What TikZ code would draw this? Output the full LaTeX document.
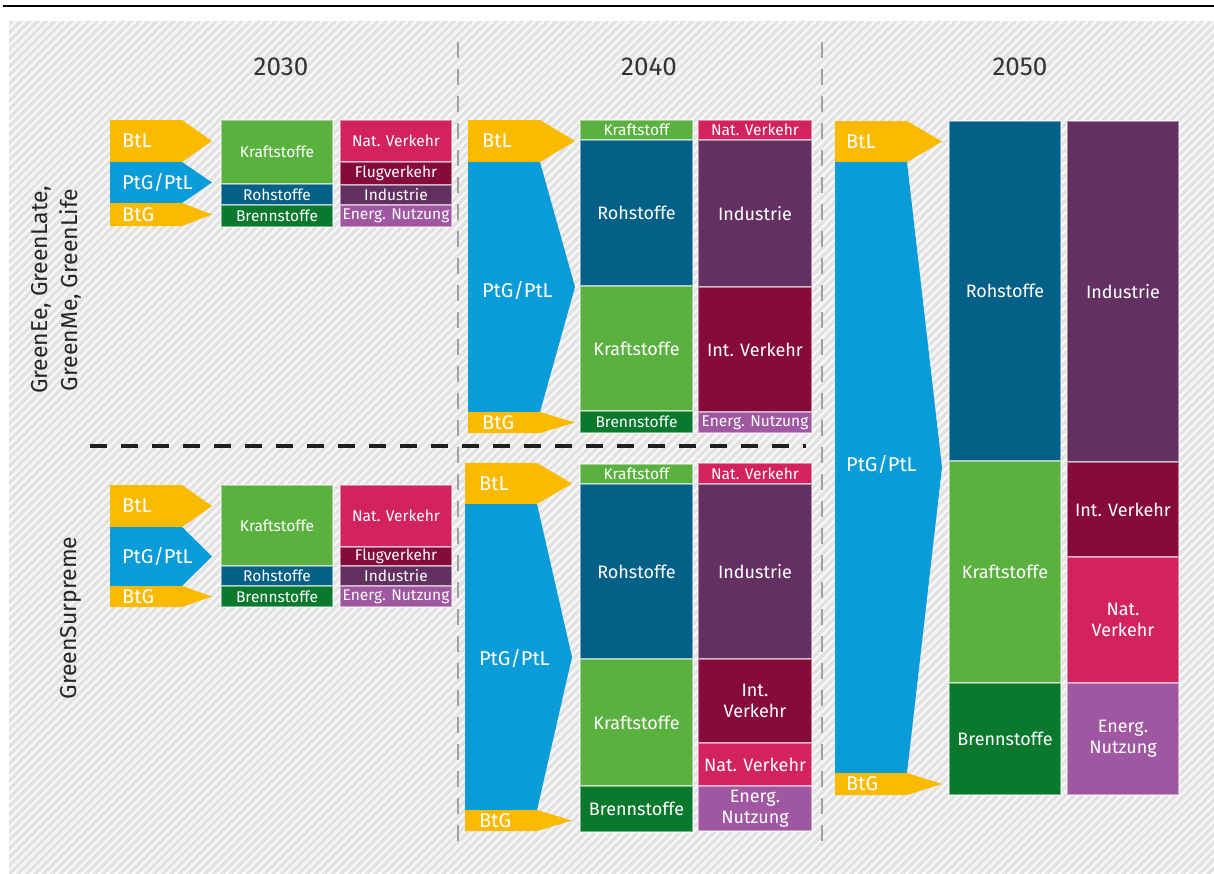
\documentclass[tikz,border=0pt]{standalone}
\usepackage{fontspec}
\setmainfont{Fira Sans}
\definecolor{egyellow}{RGB}{250,186,0}
\definecolor{egblue}{RGB}{9,156,216}
\definecolor{egkraft}{RGB}{90,177,63}
\definecolor{egroh}{RGB}{4,96,134}
\definecolor{egbrenn}{RGB}{11,121,45}
\definecolor{egnat}{RGB}{210,34,96}
\definecolor{egint}{RGB}{132,11,58}
\definecolor{egind}{RGB}{98,48,97}
\definecolor{egenerg}{RGB}{158,87,160}
\definecolor{eghatchA}{RGB}{248,248,248}
\definecolor{eghatchB}{RGB}{226,226,226}
% chevron: x0, corner x, tip x, top y, bottom y, colour
\newcommand{\fuelarrow}[6]{%
  \fill[#6] (#1,#4) -- (#2,#4) -- (#3,{(#4+#5)/2}) -- (#2,#5) -- (#1,#5) -- cycle;}

\begin{document}
\begin{tikzpicture}[
  x=1pt, y=-1pt,
  seg/.style={draw=white, draw opacity=0.45, line width=1.2pt, inner sep=0pt, outer sep=0pt,
              text=white, align=center, minimum width=112},
  segS/.style={seg, font=\fontsize{15.5}{17}\selectfont},
  segL/.style={seg, font=\fontsize{18}{21}\selectfont},
  fuellbl/.style={anchor=west, text=white, inner sep=0pt, font=\fontsize{20}{22}\selectfont},
  yearlbl/.style={text=black!80, font=\fontsize{26}{28}\selectfont},
  scenlbl/.style={text=black!85, rotate=90, align=center, font=\fontsize{23}{30}\selectfont},
  sepline/.style={draw=black!37, line width=2.5pt, dash pattern=on 16pt off 11pt},
  rowline/.style={draw=black!88, line width=3.2pt, dash pattern=on 17pt off 14pt},
]
  \useasboundingbox (0,0) rectangle (1214,873);

  % Top rule and hatched background
  \draw[line width=2.6pt] (3,6) -- (1214,6);
  \begin{scope}
    \clip (9,21) rectangle (1214,873);
    \fill[eghatchA] (9,21) rectangle (1214,873);
    \foreach \i in {0,...,245}
      \draw[eghatchB, line width=3.4pt] ({\i*8.5-850},875) -- ++(860,-860);
  \end{scope}

  % Separators
  \draw[sepline] (458,42) -- (458,852);
  \draw[sepline] (822,42) -- (822,852);
  \draw[rowline] (90,446) -- (806,446);

  % Years and scenarios
  \node[yearlbl] (y2030) at (281,67) {2030};
  \node[yearlbl] (y2040) at (649,67) {2040};
  \node[yearlbl] (y2050) at (1020,67) {2050};
  \node[scenlbl] (scenA) at (56,290) {GreenEe, GreenLate,\\GreenMe, GreenLife};
  \node[scenlbl] (scenB) at (71,618) {GreenSurpreme};

  % Upper row: 2030
  \fuelarrow{110}{182}{212}{120}{162}{egyellow}
  \fuelarrow{110}{182}{212}{162}{203}{egblue}
  \fuelarrow{110}{182}{212}{203}{226}{egyellow}
  \node[fuellbl] (aBtL) at (122,141) {BtL};
  \node[fuellbl] (aPtX) at (122,182.5) {PtG/PtL};
  \node[fuellbl] (aBtG) at (122,214.5) {BtG};

  \node[segS,fill=egkraft,minimum height=64] (aKraft) at (277,152) {Kraftstoffe};
  \node[segS,fill=egroh,minimum height=21] (aRoh) at (277,194.5) {Rohstoffe};
  \node[segS,fill=egbrenn,minimum height=22] (aBrenn) at (277,216) {Brennstoffe};

  \node[segS,fill=egnat,minimum height=42] (aNat) at (396,141) {Nat. Verkehr};
  \node[segS,fill=egint,minimum height=23] (aFlug) at (396,173.5) {Flugverkehr};
  \node[segS,fill=egind,minimum height=20] (aInd) at (396,195) {Industrie};
  \node[segS,fill=egenerg,minimum height=22] (aEnerg) at (396,216) {Energ. Nutzung};

  % Upper row: 2040
  \fuelarrow{468}{540}{575}{120}{162}{egyellow}
  \fuelarrow{468}{540}{575}{162}{412}{egblue}
  \fuelarrow{468}{540}{575}{412}{433}{egyellow}
  \node[fuellbl] (bBtL) at (482,141) {BtL};
  \node[fuellbl] (bPtX) at (482,290) {PtG/PtL};
  \node[fuellbl] (bBtG) at (482,422.5) {BtG};

  \node[segS,fill=egkraft,minimum width=113,minimum height=20] (bKraftA) at (636.5,130) {Kraftstoff};
  \node[segL,fill=egroh,minimum width=113,minimum height=146] (bRoh) at (636.5,213) {Rohstoffe};
  \node[segL,fill=egkraft,minimum width=113,minimum height=125] (bKraft) at (636.5,348.5) {Kraftstoffe};
  \node[segS,fill=egbrenn,minimum width=113,minimum height=22] (bBrenn) at (636.5,422) {Brennstoffe};

  \node[segS,fill=egnat,minimum width=114,minimum height=20] (bNat) at (755,130) {Nat. Verkehr};
  \node[segL,fill=egind,minimum width=114,minimum height=147] (bInd) at (755,213.5) {Industrie};
  \node[segL,fill=egint,minimum width=114,minimum height=125] (bInt) at (755,349.5) {Int. Verkehr};
  \node[segS,fill=egenerg,minimum width=114,minimum height=21] (bEnerg) at (755,422.5) {Energ. Nutzung};

  % Lower row: 2030
  \fuelarrow{110}{182}{212}{485}{527}{egyellow}
  \fuelarrow{110}{182}{212}{527}{586}{egblue}
  \fuelarrow{110}{182}{212}{586}{607}{egyellow}
  \node[fuellbl] (cBtL) at (122,506) {BtL};
  \node[fuellbl] (cPtX) at (122,556.5) {PtG/PtL};
  \node[fuellbl] (cBtG) at (122,596.5) {BtG};

  \node[segS,fill=egkraft,minimum height=81] (cKraft) at (277,525.5) {Kraftstoffe};
  \node[segS,fill=egroh,minimum height=20] (cRoh) at (277,576) {Rohstoffe};
  \node[segS,fill=egbrenn,minimum height=21] (cBrenn) at (277,596.5) {Brennstoffe};

  \node[segS,fill=egnat,minimum height=62] (cNat) at (396,516) {Nat. Verkehr};
  \node[segS,fill=egint,minimum height=19] (cFlug) at (396,556.5) {Flugverkehr};
  \node[segS,fill=egind,minimum height=20] (cInd) at (396,576) {Industrie};
  \node[segS,fill=egenerg,minimum height=21] (cEnerg) at (396,596.5) {Energ. Nutzung};

  % Lower row: 2040
  \fuelarrow{465}{537}{572}{463}{504}{egyellow}
  \fuelarrow{465}{537}{572}{504}{810}{egblue}
  \fuelarrow{465}{537}{572}{810}{831}{egyellow}
  \node[fuellbl] (dBtL) at (479,483.5) {BtL};
  \node[fuellbl] (dPtX) at (479,658) {PtG/PtL};
  \node[fuellbl] (dBtG) at (479,820.5) {BtG};

  \node[segS,fill=egkraft,minimum width=113,minimum height=20] (dKraftA) at (636.5,474) {Kraftstoff};
  \node[segL,fill=egroh,minimum width=113,minimum height=175] (dRoh) at (636.5,571.5) {Rohstoffe};
  \node[segL,fill=egkraft,minimum width=113,minimum height=127] (dKraft) at (636.5,722.5) {Kraftstoffe};
  \node[segL,fill=egbrenn,minimum width=113,minimum height=46] (dBrenn) at (636.5,809) {Brennstoffe};

  \node[segS,fill=egnat,minimum width=114,minimum height=21] (dNatA) at (755,473.5) {Nat. Verkehr};
  \node[segL,fill=egind,minimum width=114,minimum height=175] (dInd) at (755,571.5) {Industrie};
  \node[segL,fill=egint,minimum width=114,minimum height=84] (dInt) at (755,701) {Int.\\Verkehr};
  \node[segL,fill=egnat,minimum width=114,minimum height=43] (dNat) at (755,764.5) {Nat. Verkehr};
  \node[segL,fill=egenerg,minimum width=114,minimum height=45] (dEnerg) at (755,808.5) {Energ.\\Nutzung};

  % 2050 (both rows)
  \fuelarrow{835}{907}{942}{121}{162}{egyellow}
  \fuelarrow{835}{907}{942}{162}{773}{egblue}
  \fuelarrow{835}{907}{942}{773}{795}{egyellow}
  \node[fuellbl] (eBtL) at (846,141.5) {BtL};
  \node[fuellbl] (ePtX) at (846,464) {PtG/PtL};
  \node[fuellbl] (eBtG) at (846,784) {BtG};

  \node[segL,fill=egroh,minimum height=340] (eRoh) at (1005,291) {Rohstoffe};
  \node[segL,fill=egkraft,minimum height=222] (eKraft) at (1005,572) {Kraftstoffe};
  \node[segL,fill=egbrenn,minimum height=112] (eBrenn) at (1005,739) {Brennstoffe};

  \node[segL,fill=egind,minimum height=341] (eInd) at (1123,291.5) {Industrie};
  \node[segL,fill=egint,minimum height=95] (eInt) at (1123,509.5) {Int. Verkehr};
  \node[segL,fill=egnat,minimum height=126] (eNat) at (1123,620) {Nat.\\Verkehr};
  \node[segL,fill=egenerg,minimum height=112] (eEnerg) at (1123,739) {Energ.\\Nutzung};
\end{tikzpicture}
\end{document}
